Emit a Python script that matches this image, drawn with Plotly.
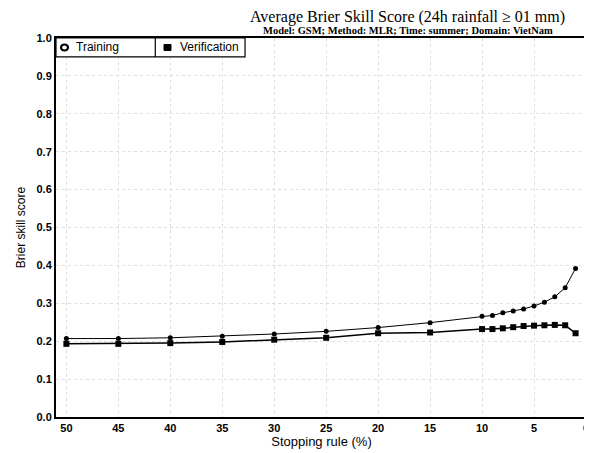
import plotly.graph_objects as go

stopping_rule = [50, 45, 40, 35, 30, 25, 20, 15, 10, 9, 8, 7, 6, 5, 4, 3, 2, 1]
training = [0.207, 0.207, 0.209, 0.213, 0.219, 0.226, 0.236, 0.249, 0.266, 0.268,
            0.275, 0.280, 0.285, 0.293, 0.303, 0.317, 0.341, 0.392]
verification = [0.193, 0.193, 0.195, 0.198, 0.204, 0.209, 0.221, 0.223, 0.232, 0.232,
                0.234, 0.237, 0.240, 0.241, 0.242, 0.243, 0.242, 0.221]
x_ticks = [50, 45, 40, 35, 30, 25, 20, 15, 10, 5, 0]
y_ticks = [0.0, 0.1, 0.2, 0.3, 0.4, 0.5, 0.6, 0.7, 0.8, 0.9, 1.0]

SANS = "Liberation Sans, Arial, sans-serif"
SERIF = "Liberation Serif, Times New Roman, serif"

fig = go.Figure()
fig.add_trace(go.Scatter(x=stopping_rule, y=training, mode="lines+markers",
                         line=dict(color="black", width=1),
                         marker=dict(symbol="circle", size=5, color="black"),
                         name="Training"))
fig.add_trace(go.Scatter(x=stopping_rule, y=verification, mode="lines+markers",
                         line=dict(color="black", width=1.5),
                         marker=dict(symbol="square", size=6, color="black"),
                         name="Verification"))

# page is offset by the default 8px body margin, so the figure is 8px smaller
fig.update_layout(
    width=584, height=445,
    margin=dict(l=48, r=5, t=30, b=36, autoexpand=False),
    paper_bgcolor="white", plot_bgcolor="white",
    showlegend=False,
    xaxis=dict(range=[51.0, -0.1], tickvals=x_ticks, ticktext=[str(v) for v in x_ticks],
               tickfont=dict(family=SANS, size=11, color="black", weight="bold"),
               ticklabeloverflow="allow",
               showgrid=True, gridcolor="#dedede", griddash="dot", gridwidth=1,
               showline=True, linecolor="black", linewidth=2, mirror=True,
               ticks="", zeroline=False, automargin=False,
               title=dict(text="Stopping rule (%)", font=dict(family=SANS, size=13, color="black"), standoff=4)),
    yaxis=dict(range=[0, 1], tickvals=y_ticks, ticktext=["%.1f" % v for v in y_ticks],
               tickfont=dict(family=SANS, size=11, color="black", weight="bold"),
               showgrid=True, gridcolor="#dedede", griddash="dot", gridwidth=1,
               showline=True, linecolor="black", linewidth=2, mirror=True,
               ticks="", zeroline=False, automargin=False,
               title=dict(text="Brier skill score", font=dict(family=SANS, size=12, color="black"), standoff=8)),
)

fig.add_annotation(text="Average Brier Skill Score (24h rainfall ≥ 01 mm)",
                   xref="paper", yref="paper", x=0.662, y=1.0, yshift=21,
                   xanchor="center", yanchor="middle", showarrow=False,
                   font=dict(family=SERIF, size=16, color="black"))
fig.add_annotation(text="Model: GSM; Method: MLR; Time: summer; Domain: VietNam",
                   xref="paper", yref="paper", x=0.662, y=1.0, yshift=8,
                   xanchor="center", yanchor="middle", showarrow=False,
                   font=dict(family=SERIF, size=10.5, color="black", weight="bold"))

# legend box drawn in the plot's top-left corner
fig.add_shape(type="rect", xref="paper", yref="paper", x0=0, x1=0.356, y0=0.950, y1=1.0,
              line=dict(color="black", width=1.2), fillcolor="white", layer="above")
fig.add_shape(type="line", xref="paper", yref="paper", x0=0.187, x1=0.187, y0=0.950, y1=1.0,
              line=dict(color="black", width=1.2), layer="above")
fig.add_shape(type="circle", xref="paper", yref="paper", xsizemode="pixel", ysizemode="pixel",
              xanchor=0.016, yanchor=0.975, x0=-3.5, x1=3.5, y0=-3, y1=3,
              line=dict(color="black", width=2.2), fillcolor="white", layer="above")
fig.add_shape(type="rect", xref="paper", yref="paper", xsizemode="pixel", ysizemode="pixel",
              xanchor=0.210, yanchor=0.975, x0=-3.5, x1=3.5, y0=-3, y1=3,
              line=dict(color="black", width=1), fillcolor="black", layer="above")
fig.add_annotation(text="Training", xref="paper", yref="paper", x=0.034, y=0.975,
                   xanchor="left", yanchor="middle", showarrow=False,
                   font=dict(family=SANS, size=12, color="black"))
fig.add_annotation(text="Verification", xref="paper", yref="paper", x=0.230, y=0.975,
                   xanchor="left", yanchor="middle", showarrow=False,
                   font=dict(family=SANS, size=12, color="black"))

fig.write_html("out.html")
